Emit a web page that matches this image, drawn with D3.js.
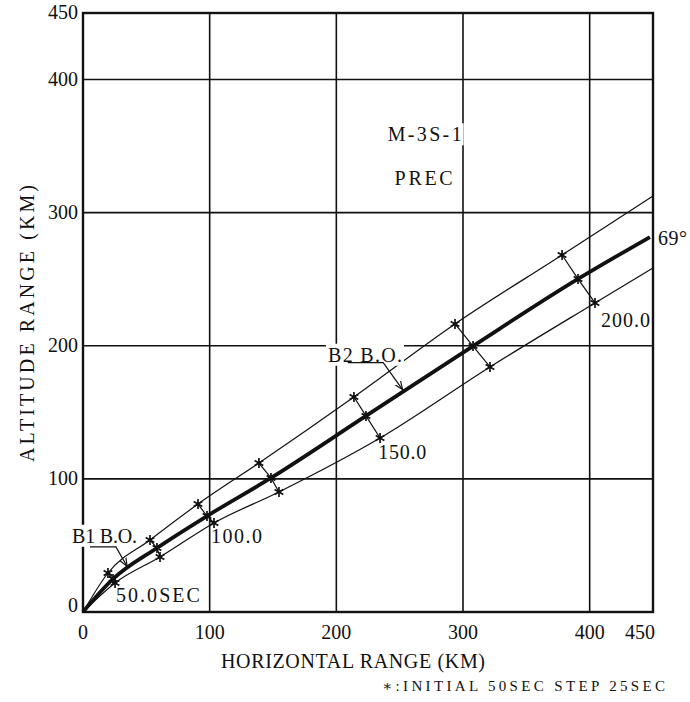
<!DOCTYPE html>
<html>
<head>
<meta charset="utf-8">
<script src="https://cdn.jsdelivr.net/npm/d3@7"></script>
<style>
  body { margin: 0; background: #fff; }
  svg text { font-family: "Liberation Serif", "DejaVu Serif", serif; fill: #111; }
</style>
</head>
<body>
<div id="chart"></div>
<script>
// star times (sec) for the asterisks, then the last point of each trace
const timesSec = [50, 75, 100, 125, 150, 175, 200];

// nominal 69 deg trajectory (km)
const centerX = [0, 23.7, 58.4, 97.9, 148.4, 223.4, 307.9, 390.8, 447.6];
const centerY = [0, 24.8, 48.1, 72.1, 100.7, 147.3, 199.8, 250.2, 281.7];
// upper dispersion
const upperX = [0, 19.7, 52.9, 90.8, 138.9, 213.9, 293.7, 378.2, 450];
const upperY = [0, 29.3, 54.1, 81.1, 111.9, 161.5, 216.4, 268.2, 312.5];
// lower dispersion
const lowerX = [0, 25.3, 60.8, 103.4, 154.7, 234.5, 321.3, 404.2, 450];
const lowerY = [0, 21.8, 41.3, 66.9, 90.2, 130.7, 184.1, 232.2, 258.5];

const xTicks = [0, 100, 200, 300, 400, 450];
const yTicks = [0, 100, 200, 300, 400, 450];
const gridVals = [100, 200, 300, 400];

const W = 690, H = 702;
const plotL = 83, plotR = 653, plotT = 13, plotB = 612;

const svg = d3.select("#chart").append("svg")
  .attr("width", W).attr("height", H);

svg.append("rect").attr("width", W).attr("height", H).attr("fill", "#fff");

const x = d3.scaleLinear().domain([0, 450]).range([plotL, plotR]);
const y = d3.scaleLinear().domain([0, 450]).range([plotB, plotT]);

svg.append("defs").append("marker")
  .attr("id", "arr")
  .attr("viewBox", "0 0 10 10")
  .attr("refX", 9).attr("refY", 5)
  .attr("markerWidth", 7).attr("markerHeight", 7)
  .attr("orient", "auto")
  .append("path")
  .attr("d", "M0,1 L10,5 L0,9")
  .attr("fill", "none")
  .attr("stroke", "#111")
  .attr("stroke-width", 1.4);

// grid
const g = svg.append("g");
g.selectAll(".gx").data(gridVals).join("line")
  .attr("x1", d => x(d)).attr("x2", d => x(d))
  .attr("y1", y(0)).attr("y2", y(450))
  .attr("stroke", "#111").attr("stroke-width", 1.6);
g.selectAll(".gy").data(gridVals).join("line")
  .attr("y1", d => y(d)).attr("y2", d => y(d))
  .attr("x1", x(0)).attr("x2", x(450))
  .attr("stroke", "#111").attr("stroke-width", 1.6);

// frame
g.append("rect")
  .attr("x", x(0)).attr("y", y(450))
  .attr("width", x(450) - x(0)).attr("height", y(0) - y(450))
  .attr("fill", "none").attr("stroke", "#111").attr("stroke-width", 2.4);

// tick labels
svg.append("g").selectAll("text").data(xTicks).join("text")
  .attr("x", d => d === 450 ? x(d) + 2 : x(d))
  .attr("y", y(0) + 27)
  .attr("text-anchor", d => d === 450 ? "end" : "middle")
  .style("font-size", "20px")
  .text(d => d);

svg.append("g").selectAll("text").data(yTicks).join("text")
  .attr("x", x(0) - 5)
  .attr("y", d => y(d) + (d === 0 ? 0 : 6))
  .attr("text-anchor", "end")
  .style("font-size", "20px")
  .text(d => d);

// axis titles
svg.append("text")
  .attr("x", 221).attr("y", 668)
  .attr("textLength", 264).attr("lengthAdjust", "spacing")
  .style("font-size", "20px")
  .text("HORIZONTAL RANGE (KM)");

svg.append("text")
  .attr("transform", "translate(34,462) rotate(-90)")
  .attr("textLength", 277).attr("lengthAdjust", "spacing")
  .style("font-size", "20px")
  .text("ALTITUDE RANGE (KM)");

svg.append("text")
  .attr("x", 382).attr("y", 691)
  .attr("textLength", 283).attr("lengthAdjust", "spacing")
  .style("font-size", "15px")
  .text("\u2217:INITIAL 50SEC STEP 25SEC");

// traces
const toPts = (xs, ys) => xs.map((v, i) => [v, ys[i]]);
const traces = [
  { pts: toPts(upperX, upperY), w: 1.2 },
  { pts: toPts(lowerX, lowerY), w: 1.2 },
  { pts: toPts(centerX, centerY), w: 3.8 }
];

const line = d3.line()
  .x(d => x(d[0])).y(d => y(d[1]))
  .curve(d3.curveMonotoneX);

svg.append("g").selectAll("path").data(traces).join("path")
  .attr("d", d => line(d.pts))
  .attr("fill", "none")
  .attr("stroke", "#111")
  .attr("stroke-width", d => d.w);

// cross-lines joining the stars at equal times
const cross = timesSec.map((t, i) => [
  [upperX[i + 1], upperY[i + 1]],
  [centerX[i + 1], centerY[i + 1]],
  [lowerX[i + 1], lowerY[i + 1]]
]);
svg.append("g").selectAll("path").data(cross).join("path")
  .attr("d", d3.line().x(d => x(d[0])).y(d => y(d[1])))
  .attr("fill", "none").attr("stroke", "#111").attr("stroke-width", 1.2);

// asterisks
const stars = cross.flat();
const star = d3.symbol(d3.symbolAsterisk, 70);
svg.append("g").selectAll("path").data(stars).join("path")
  .attr("transform", d => `translate(${x(d[0])},${y(d[1])})`)
  .attr("d", star)
  .attr("fill", "none").attr("stroke", "#111").attr("stroke-width", 1.7);

// text labels, positioned in km
const labels = [
  { t: "50.0SEC", x: 26, y: 7.5, len: 84 },
  { t: "100.0", x: 101, y: 52, len: 51 },
  { t: "150.0", x: 233, y: 115, len: 48 },
  { t: "200.0", x: 409, y: 214, len: 49 },
  { t: "69\u00b0", x: 454, y: 276, len: 29 },
  { t: "B1 B.O.", x: -8.7, y: 52, len: 65, bg: true },
  { t: "B2 B.O.", x: 193.4, y: 188, len: 74, bg: true },
  { t: "M-3S-1", x: 240.5, y: 353.6, len: 74, bg: true },
  { t: "PREC", x: 246, y: 321, len: 58 }
];

const lg = svg.append("g");
labels.forEach(l => {
  if (l.bg) {
    lg.append("rect")
      .attr("x", x(l.x) - 2).attr("y", y(l.y) - 18)
      .attr("width", l.len + 4).attr("height", 22)
      .attr("fill", "#fff");
  }
  lg.append("text")
    .attr("x", x(l.x)).attr("y", y(l.y))
    .attr("textLength", l.len).attr("lengthAdjust", "spacing")
    .style("font-size", "20px")
    .text(l.t);
});

// burnout leaders
const leaders = [
  [[5.5, 48.9], [26, 48.9], [34.5, 34.8]],
  [[209, 187.4], [237, 187.4], [252, 167.5]]
];
svg.append("g").selectAll("path").data(leaders).join("path")
  .attr("d", d3.line().x(d => x(d[0])).y(d => y(d[1])))
  .attr("fill", "none").attr("stroke", "#111").attr("stroke-width", 1.2)
  .attr("marker-end", "url(#arr)");
</script>
</body>
</html>
